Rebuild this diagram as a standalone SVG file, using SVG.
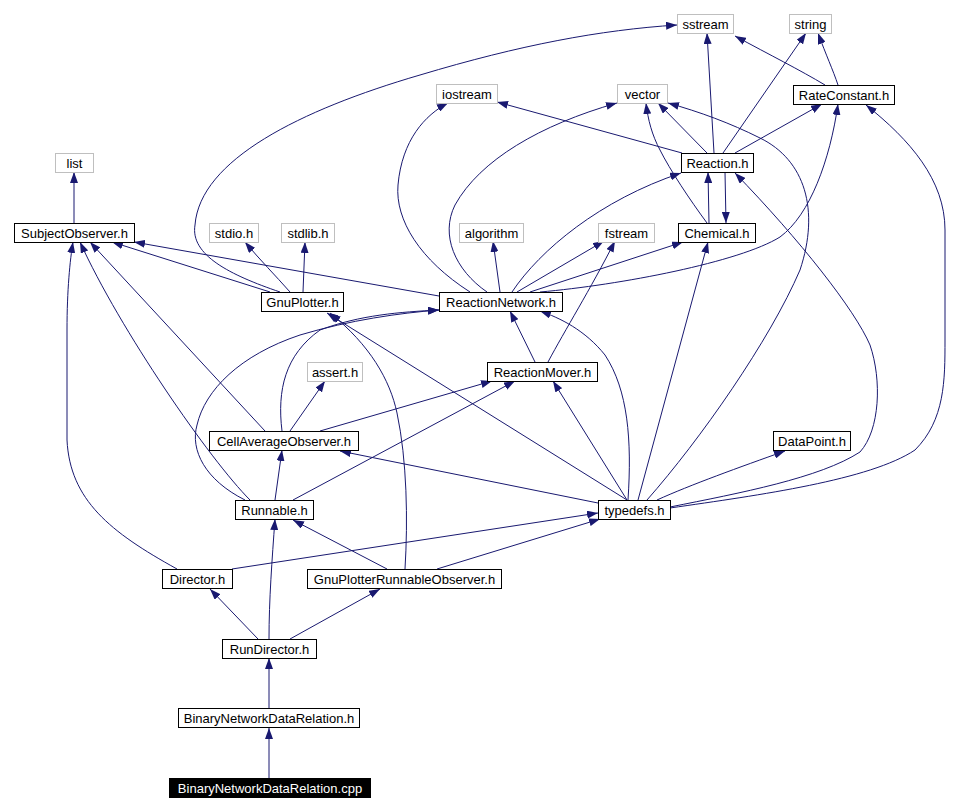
<svg xmlns="http://www.w3.org/2000/svg" width="972" height="811" viewBox="0 0 972 811">
<style>
.e{fill:none;stroke:#191970;stroke-width:1;marker-end:url(#ah)}
.n rect{fill:#fff;stroke:#000;stroke-width:1}
.g rect{fill:#fff;stroke:#bfbfbf;stroke-width:1}
.b rect{fill:#000;stroke:#000}
text{font-family:"Liberation Sans",Arial,sans-serif;font-size:13px;text-anchor:middle;fill:#000}
.b text{fill:#fff}
</style>
<defs>
<marker id="ah" markerUnits="userSpaceOnUse" markerWidth="11" markerHeight="8" refX="11" refY="4" orient="auto">
<path d="M0,0 L11,4 L0,8 z" fill="#191970"/>
</marker>
</defs>
<rect x="0" y="0" width="972" height="811" fill="#fff"/>
<g id="connectors">
<path class="e" d="M269,778 L269,728"/>
<path class="e" d="M269,708 L269,658"/>
<path class="e" d="M258,639 L210,589"/>
<path class="e" d="M269,639 C269,600 272,560 275,519"/>
<path class="e" d="M290,639 L380,589"/>
<path class="e" d="M177,569 C110,532 70,500 67,440 L67,330 C67,290 70,260 73,242"/>
<path class="e" d="M232,569 L598,513"/>
<path class="e" d="M387,569 L293,520"/>
<path class="e" d="M405,569 C408,520 407,460 397,413 C390,380 370,345 330,313"/>
<path class="e" d="M437,569 L600,519"/>
<path class="e" d="M275,500 L282,450"/>
<path class="e" d="M250,500 C210,460 120,330 80,242"/>
<path class="e" d="M245,500 C205,480 190,450 197,425 C205,390 240,355 300,335 C350,320 400,313 439,310"/>
<path class="e" d="M293,500 L515,381"/>
<path class="e" d="M265,431 L90,242"/>
<path class="e" d="M290,431 L325,381"/>
<path class="e" d="M282,431 C277,390 285,355 320,330 C360,315 400,312 439,310"/>
<path class="e" d="M320,431 L492,381"/>
<path class="e" d="M598,503 L340,451"/>
<path class="e" d="M657,500 C690,485 740,467 785,451"/>
<path class="e" d="M627,500 L553,381"/>
<path class="e" d="M628,500 C632,440 628,390 605,355 C585,330 560,318 540,311"/>
<path class="e" d="M638,500 L708,242"/>
<path class="e" d="M647,500 C700,440 770,340 800,270 C820,210 805,160 760,138 C730,123 700,112 668,103"/>
<path class="e" d="M670,507 C740,493 820,478 860,452 C880,430 882,380 870,345 C855,310 800,240 735,173"/>
<path class="e" d="M670,508 C760,495 870,480 915,450 C945,420 945,380 945,340 L945,230 C945,180 910,140 866,105"/>
<path class="e" d="M627,500 L327,313"/>
<path class="e" d="M535,362 L510,311"/>
<path class="e" d="M548,362 C565,330 590,290 615,241"/>
<path class="e" d="M439,296 L134,242"/>
<path class="e" d="M500,292 L493,241"/>
<path class="e" d="M517,292 L604,241"/>
<path class="e" d="M530,292 L683,242"/>
<path class="e" d="M512,292 C540,250 600,200 681,173"/>
<path class="e" d="M470,292 C420,260 395,220 398,185 C402,140 425,115 448,103"/>
<path class="e" d="M487,292 C455,270 440,235 455,205 C480,160 540,125 617,103"/>
<path class="e" d="M540,292 C620,285 740,262 780,237 C810,215 830,160 838,104"/>
<path class="e" d="M270,292 L112,242"/>
<path class="e" d="M290,292 C275,275 260,260 245,242"/>
<path class="e" d="M303,292 L305,242"/>
<path class="e" d="M280,292 C230,275 190,255 195,225 C200,160 300,110 420,75 C520,45 600,30 677,25"/>
<path class="e" d="M74,223 L74,172"/>
<path class="e" d="M709,223 L708,172"/>
<path class="e" d="M725,172 L726,223"/>
<path class="e" d="M707,223 C690,200 670,170 660,150 C652,135 648,120 646,103"/>
<path class="e" d="M707,153 L658,103"/>
<path class="e" d="M682,153 L497,102"/>
<path class="e" d="M714,153 L707,33"/>
<path class="e" d="M723,153 L806,33"/>
<path class="e" d="M735,153 L822,104"/>
<path class="e" d="M825,85 C800,70 770,55 735,36"/>
<path class="e" d="M838,85 C833,70 826,55 818,33"/>
</g>
<g id="sstream" class="g"><rect x="677.5" y="14.5" width="56" height="19"/><text x="705.5" y="28.5">sstream</text></g>
<g id="string" class="g"><rect x="789.5" y="14.5" width="42" height="19"/><text x="810.5" y="28.5">string</text></g>
<g id="iostream" class="g"><rect x="436.5" y="84.5" width="61" height="19"/><text x="467" y="98.5">iostream</text></g>
<g id="vector" class="g"><rect x="617.5" y="84.5" width="50" height="19"/><text x="642.5" y="98.5">vector</text></g>
<g id="RateConstant" class="n"><rect x="793.5" y="85.5" width="101" height="19"/><text x="844" y="99.5">RateConstant.h</text></g>
<g id="Reaction" class="n"><rect x="681.5" y="153.5" width="72" height="19"/><text x="717.5" y="167.5">Reaction.h</text></g>
<g id="list" class="g"><rect x="55.5" y="153.5" width="38" height="19"/><text x="74.5" y="167.5">list</text></g>
<g id="SubjectObserver" class="n"><rect x="14.5" y="223.5" width="120" height="19"/><text x="74.5" y="237.5">SubjectObserver.h</text></g>
<g id="stdio" class="g"><rect x="209.5" y="223.5" width="49" height="19"/><text x="234" y="237.5">stdio.h</text></g>
<g id="stdlib" class="g"><rect x="281.5" y="223.5" width="53" height="19"/><text x="308" y="237.5">stdlib.h</text></g>
<g id="algorithm" class="g"><rect x="459.5" y="223.5" width="64" height="19"/><text x="491.5" y="237.5">algorithm</text></g>
<g id="fstream" class="g"><rect x="598.5" y="223.5" width="56" height="19"/><text x="626.5" y="237.5">fstream</text></g>
<g id="Chemical" class="n"><rect x="678.5" y="223.5" width="77" height="19"/><text x="717" y="237.5">Chemical.h</text></g>
<g id="GnuPlotter" class="n"><rect x="261.5" y="292.5" width="82" height="19"/><text x="302.5" y="306.5">GnuPlotter.h</text></g>
<g id="ReactionNetwork" class="n"><rect x="439.5" y="292.5" width="123" height="19"/><text x="501" y="306.5">ReactionNetwork.h</text></g>
<g id="assert" class="g"><rect x="307.5" y="362.5" width="55" height="19"/><text x="335" y="376.5">assert.h</text></g>
<g id="ReactionMover" class="n"><rect x="487.5" y="362.5" width="110" height="19"/><text x="542.5" y="376.5">ReactionMover.h</text></g>
<g id="CellAverageObserver" class="n"><rect x="209.5" y="431.5" width="149" height="19"/><text x="284" y="445.5">CellAverageObserver.h</text></g>
<g id="DataPoint" class="n"><rect x="773.5" y="431.5" width="77" height="19"/><text x="812" y="445.5">DataPoint.h</text></g>
<g id="Runnable" class="n"><rect x="235.5" y="500.5" width="78" height="19"/><text x="274.5" y="514.5">Runnable.h</text></g>
<g id="typedefs" class="n"><rect x="598.5" y="500.5" width="72" height="19"/><text x="634.5" y="514.5">typedefs.h</text></g>
<g id="Director" class="n"><rect x="162.5" y="569.5" width="70" height="19"/><text x="197.5" y="583.5">Director.h</text></g>
<g id="GnuPlotterRunnableObserver" class="n"><rect x="307.5" y="569.5" width="194" height="19"/><text x="404.5" y="583.5">GnuPlotterRunnableObserver.h</text></g>
<g id="RunDirector" class="n"><rect x="222.5" y="639.5" width="94" height="19"/><text x="269.5" y="653.5">RunDirector.h</text></g>
<g id="BinaryNetworkDataRelation_h" class="n"><rect x="178.5" y="708.5" width="181" height="19"/><text x="269" y="722.5">BinaryNetworkDataRelation.h</text></g>
<g id="BinaryNetworkDataRelation_cpp" class="b"><rect x="169.5" y="778.5" width="201" height="19"/><text x="270" y="792.5">BinaryNetworkDataRelation.cpp</text></g>
</svg>
